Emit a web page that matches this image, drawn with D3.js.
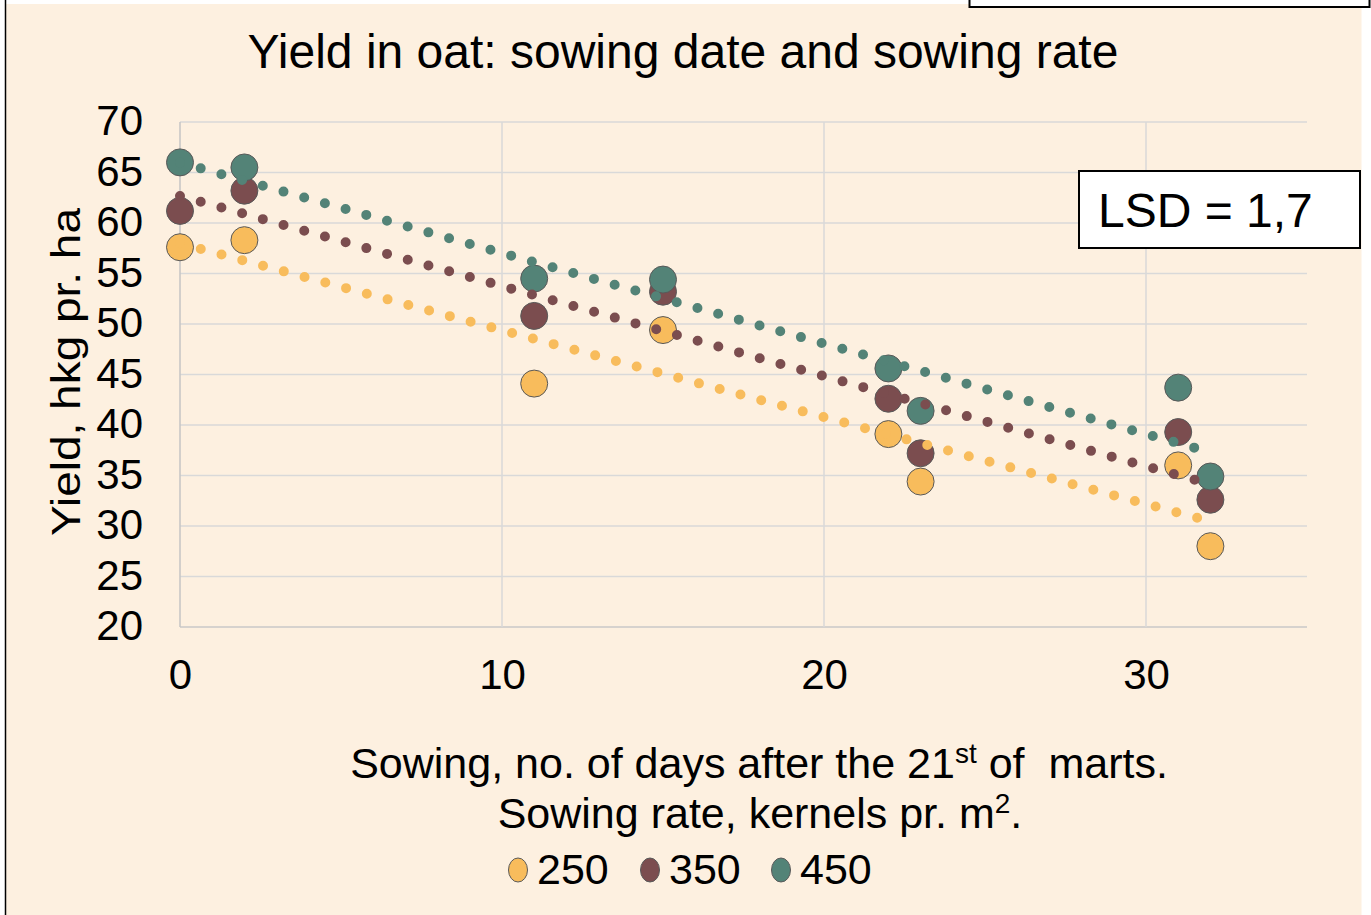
<!DOCTYPE html>
<html>
<head>
<meta charset="utf-8">
<script src="https://cdn.jsdelivr.net/npm/d3@7/dist/d3.min.js"></script>
<style>
    body { margin: 0; background: #ffffff; }
    svg { display: block; font-family: "Liberation Sans", Arial, sans-serif; }
    text { white-space: pre; }
</style>
</head>
<body>
<script>
(function () {
    // Sowing days after 21st of March
    var sowingDays = [0, 2, 11, 15, 22, 23, 31, 32];
    // Sowing rates (kernels pr. m2)
    var rateNames = ['250', '350', '450'];
    var rateColors = ['#F8BC5C', '#7B4D4F', '#538377'];
    // Yield, hkg pr. ha
    var yield250 = [57.6, 58.3, 44.1, 49.4, 39.1, 34.4, 36.0, 28.0];
    var yield350 = [61.2, 63.2, 50.8, 53.2, 42.6, 37.2, 39.3, 32.6];
    var yield450 = [66.0, 65.5, 54.5, 54.4, 45.6, 41.4, 43.7, 34.9];
    var xTicks = [0, 10, 20, 30];
    var yTicks = [20, 25, 30, 35, 40, 45, 50, 55, 60, 65, 70];

    var series = [yield250, yield350, yield450];

    var width = 1371,
        height = 915;

    var svg = d3.select('body')
        .append('svg')
        .attr('width', width)
        .attr('height', height);

    // Chart frame
    svg.append('rect')
        .attr('x', 5.5)
        .attr('y', 4)
        .attr('width', 1356)
        .attr('height', 915)
        .attr('fill', '#FDF0E0');
    svg.append('line')
        .attr('x1', 5.5).attr('x2', 5.5)
        .attr('y1', 0).attr('y2', height)
        .attr('stroke', '#000').attr('stroke-width', 1.5);

    // Box sticking in at top right
    svg.append('rect')
        .attr('x', 969.5)
        .attr('y', -5)
        .attr('width', 400)
        .attr('height', 12)
        .attr('fill', '#fff')
        .attr('stroke', '#000')
        .attr('stroke-width', 2);

    var x = d3.scaleLinear()
        .domain([0, 35])
        .range([180, 1307]);

    var y = d3.scaleLinear()
        .domain([20, 70])
        .range([627, 122]);

    // Gridlines
    svg.append('g')
        .selectAll('line')
        .data(yTicks)
        .enter()
        .append('line')
        .attr('x1', x(0)).attr('x2', x(35))
        .attr('y1', function (d) { return y(d); })
        .attr('y2', function (d) { return y(d); })
        .attr('stroke', function (d) { return d == 20 ? '#c8c8c8' : '#d9d9d9'; })
        .attr('stroke-width', 1.5);

    svg.append('g')
        .selectAll('line')
        .data(xTicks)
        .enter()
        .append('line')
        .attr('x1', function (d) { return x(d); })
        .attr('x2', function (d) { return x(d); })
        .attr('y1', y(70)).attr('y2', y(20))
        .attr('stroke', function (d) { return d == 0 ? '#c4c4c4' : '#d9d9d9'; })
        .attr('stroke-width', 1.5);

    // Axes (labels only)
    var yAxis = svg.append('g')
        .attr('transform', 'translate(' + (x(0) - 37) + ',0)')
        .call(d3.axisLeft(y).tickValues(yTicks).tickSize(0).tickPadding(0));
    var xAxis = svg.append('g')
        .attr('transform', 'translate(0,' + (y(20) + 32) + ')')
        .call(d3.axisBottom(x).tickValues(xTicks).tickSize(0).tickPadding(0));

    [yAxis, xAxis].forEach(function (ax) {
        ax.select('.domain').remove();
        ax.selectAll('text')
            .attr('font-family', '"Liberation Sans", Arial, sans-serif')
            .attr('font-size', 42)
            .attr('fill', '#000');
    });
    yAxis.selectAll('text').attr('dy', '0.3em');
    xAxis.selectAll('text').attr('dy', '0.71em');

    // Markers
    series.forEach(function (vals, s) {
        svg.append('g')
            .selectAll('circle')
            .data(vals)
            .enter()
            .append('circle')
            .attr('cx', function (d, i) { return x(sowingDays[i]); })
            .attr('cy', function (d) { return y(d); })
            .attr('r', 13.5)
            .attr('fill', rateColors[s])
            .attr('stroke', '#595959')
            .attr('stroke-width', 1);
    });

    // Linear trendlines (least squares) drawn as round dots
    series.forEach(function (vals, s) {
        var mx = d3.mean(sowingDays),
            my = d3.mean(vals);
        var sxy = d3.sum(sowingDays, function (d, i) { return (d - mx) * (vals[i] - my); });
        var sxx = d3.sum(sowingDays, function (d) { return (d - mx) * (d - mx); });
        var slope = sxy / sxx,
            icpt = my - slope * mx;
        var x0 = d3.min(sowingDays),
            x1 = d3.max(sowingDays);
        svg.append('line')
            .attr('x1', x(x0)).attr('y1', y(icpt + slope * x0))
            .attr('x2', x(x1)).attr('y2', y(icpt + slope * x1))
            .attr('stroke', rateColors[s])
            .attr('stroke-width', 10)
            .attr('stroke-linecap', 'round')
            .attr('stroke-dasharray', '0 21.5');
    });

    // Title
    svg.append('text')
        .attr('x', 683)
        .attr('y', 68)
        .attr('text-anchor', 'middle')
        .attr('font-size', 48)
        .text('Yield in oat: sowing date and sowing rate');

    // Y axis title
    svg.append('text')
        .attr('transform', 'translate(80,372) rotate(-90)')
        .attr('text-anchor', 'middle')
        .attr('font-size', 40)
        .attr('textLength', 328)
        .attr('lengthAdjust', 'spacingAndGlyphs')
        .text('Yield, hkg pr. ha');

    // X axis title, two lines with superscripts
    var t1 = svg.append('text')
        .attr('x', 759)
        .attr('y', 778)
        .attr('text-anchor', 'middle')
        .attr('font-size', 43);
    t1.append('tspan').text('Sowing, no. of days after the 21');
    t1.append('tspan').attr('font-size', 28).attr('dy', -15).text('st');
    t1.append('tspan').attr('dy', 15).text(' of  marts.');

    var t2 = svg.append('text')
        .attr('x', 760)
        .attr('y', 828)
        .attr('text-anchor', 'middle')
        .attr('font-size', 43);
    t2.append('tspan').text('Sowing rate, kernels pr. m');
    t2.append('tspan').attr('font-size', 28).attr('dy', -15).text('2');
    t2.append('tspan').attr('dy', 15).text('.');

    // Legend
    var legendX = [518, 650, 781];
    var legend = svg.append('g')
        .selectAll('g')
        .data(rateNames)
        .enter()
        .append('g')
        .attr('transform', function (d, i) { return 'translate(' + legendX[i] + ',870)'; });
    legend.append('ellipse')
        .attr('rx', 9.5)
        .attr('ry', 12)
        .attr('fill', function (d, i) { return rateColors[i]; })
        .attr('stroke', '#595959')
        .attr('stroke-width', 1);
    legend.append('text')
        .attr('x', 19)
        .attr('y', 14)
        .attr('font-size', 43)
        .text(function (d) { return d; });

    // LSD box
    svg.append('rect')
        .attr('x', 1079)
        .attr('y', 171)
        .attr('width', 281)
        .attr('height', 77)
        .attr('fill', '#fff')
        .attr('stroke', '#000')
        .attr('stroke-width', 2);
    svg.append('text')
        .attr('x', 1098)
        .attr('y', 227)
        .attr('font-size', 48)
        .text('LSD = 1,7');
})();
</script>
</body>
</html>
